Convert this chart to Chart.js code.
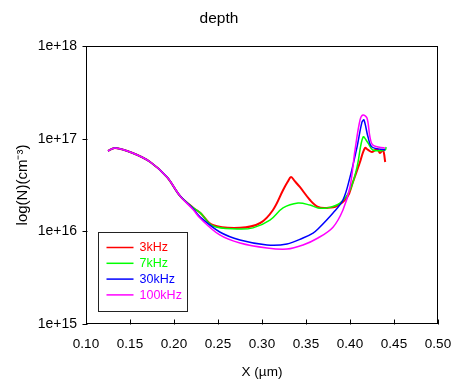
<!DOCTYPE html>
<html><head><meta charset="utf-8">
<script src="https://cdn.jsdelivr.net/npm/chart.js@4"></script>
<style>html,body{margin:0;padding:0;background:#fff}</style>
</head><body>
<canvas id="c" width="455" height="385"></canvas>
<script>
const chartTitle = 'depth';
const xTitle = 'X (µm)';
const yTitle = 'log(N)(cm⁻³)';
const seriesLabels = ['3kHz', '7kHz', '30kHz', '100kHz'];
const seriesColors = ['#ff0000', '#00ff00', '#0000ff', '#ff00ff'];
const yTickValues = [1e15, 1e16, 1e17, 1e18];
const yTickLabels = ['1e+15', '1e+16', '1e+17', '1e+18'];

const x3k = [0.125,0.133,0.153,0.173,0.192,0.207,0.222,0.23,0.244,0.275,0.298,0.3125,0.324,0.329,0.333,0.337,0.343,0.3545,0.3636,0.374,0.385,0.397,0.403,0.411,0.417,0.4205,0.425,0.431,0.434,0.4375,0.44];
const y3k = [7.36e16,7.93e16,7.0e16,5.6e16,3.85e16,2.4e16,1.79e16,1.58e16,1.17e16,1.09e16,1.23e16,1.70e16,2.79e16,3.4e16,3.85e16,3.5e16,3.01e16,2.18e16,1.83e16,1.79e16,1.87e16,2.35e16,3.33e16,5.46e16,7.93e16,7.55e16,7.18e16,7.74e16,7.0e16,7.55e16,5.6e16];

const x7k = [0.125,0.133,0.153,0.173,0.192,0.207,0.222,0.23,0.244,0.2716,0.2898,0.309,0.3239,0.341,0.3545,0.3636,0.374,0.3886,0.4,0.408,0.4148,0.4205,0.426,0.44,0.441];
const y7k = [7.36e16,7.93e16,7.0e16,5.6e16,3.85e16,2.4e16,1.79e16,1.58e16,1.15e16,1.06e16,1.09e16,1.32e16,1.79e16,2.02e16,1.92e16,1.79e16,1.79e16,2.02e16,2.79e16,4.94e16,1.04e17,8.97e16,7.55e16,7.55e16,8.13e16];

const x30k = [0.125,0.133,0.153,0.173,0.192,0.207,0.2216,0.2295,0.252,0.275,0.3057,0.3284,0.3466,0.358,0.3636,0.3807,0.392,0.4,0.408,0.4136,0.4159,0.4205,0.425,0.44];
const y30k = [7.36e16,7.93e16,7.0e16,5.6e16,3.85e16,2.4e16,1.76e16,1.43e16,9.84e15,8.07e15,7.13e15,7.3e15,8.47e15,9.59e15,1.06e16,1.58e16,2.18e16,3.85e16,8.13e16,1.51e17,1.59e17,1.04e17,8.13e16,7.55e16];

const x100k = [0.125,0.133,0.153,0.173,0.192,0.207,0.2216,0.2295,0.252,0.275,0.3057,0.3284,0.3466,0.3636,0.3807,0.392,0.4,0.4057,0.4114,0.4148,0.4193,0.4227,0.4261,0.44];
const y100k = [7.36e16,7.93e16,7.0e16,5.6e16,3.85e16,2.4e16,1.72e16,1.39e16,9.14e15,7.48e15,6.61e15,6.44e15,7.13e15,8.47e15,1.11e16,1.70e16,3.01e16,7.55e16,1.59e17,1.80e17,1.67e17,1.04e17,8.5e16,7.9e16];

const seriesX = [x3k, x7k, x30k, x100k];
const seriesY = [y3k, y7k, y30k, y100k];

const FONT = 'Liberation Sans, Arial, sans-serif';

const datasets = seriesLabels.map((lab, i) => ({
  label: lab,
  data: seriesX[i].map((x, j) => ({x: x, y: seriesY[i][j]})),
  borderColor: seriesColors[i],
  backgroundColor: seriesColors[i],
  borderWidth: i === 0 ? 2 : 1.5,
  pointRadius: 0,
  showLine: true,
  fill: false,
  tension: 0.35,
  order: 3 - i
}));

const framePlugin = {
  id: 'frame',
  afterDraw(chart) {
    const {ctx, chartArea: a, scales: {x, y}} = chart;
    ctx.save();
    ctx.strokeStyle = '#000';
    ctx.lineWidth = 1;
    const L = Math.round(a.left) + 0.5, R = Math.round(a.right) - 0.5;
    const T = Math.round(a.top) + 0.5, B = Math.round(a.bottom) - 0.5;
    ctx.strokeRect(L, T, R - L, B - T);
    ctx.beginPath();
    x.ticks.forEach(t => {
      const px = Math.round(x.getPixelForValue(t.value)) + 0.5;
      ctx.moveTo(px, B + 1); ctx.lineTo(px, B - 4);
    });
    y.ticks.forEach(t => {
      const py = Math.round(y.getPixelForValue(t.value)) + 0.5;
      ctx.moveTo(L - 4, py); ctx.lineTo(L + 1, py);
    });
    ctx.stroke();
    // legend box
    const lx = Math.round(a.left) + 12.5, ly = Math.round(a.bottom) - 91.5;
    ctx.strokeStyle = '#222';
    ctx.strokeRect(lx, ly, 89, 79);
    ctx.font = '12.5px ' + FONT;
    ctx.textBaseline = 'middle';
    ctx.textAlign = 'left';
    chart.data.datasets.forEach((ds, i) => {
      const ry = ly + 15 + i * 15.8;
      ctx.strokeStyle = ds.borderColor;
      ctx.lineWidth = 1.5;
      ctx.beginPath();
      ctx.moveTo(lx + 8, ry); ctx.lineTo(lx + 35, ry);
      ctx.stroke();
      ctx.fillStyle = ds.borderColor;
      ctx.fillText(ds.label, lx + 41, ry + 0.5);
    });
    ctx.restore();
  }
};

new Chart(document.getElementById('c'), {
  type: 'scatter',
  data: {datasets},
  plugins: [framePlugin],
  options: {
    responsive: false,
    animation: false,
    layout: {padding: {left: 0, right: 17, top: 0, bottom: 0}},
    plugins: {
      legend: {display: false},
      tooltip: {enabled: false},
      title: {
        display: true, text: chartTitle, color: '#000',
        font: {family: FONT, size: 15.5, weight: 'normal'},
        padding: {top: 9, bottom: 18.4}
      }
    },
    scales: {
      x: {
        type: 'linear', min: 0.1, max: 0.5,
        grid: {display: false, drawTicks: true, tickLength: 12},
        border: {display: false},
        ticks: {stepSize: 0.05, color: '#000', font: {family: FONT, size: 13.5},
                padding: 0, maxRotation: 0, autoSkip: false,
                callback: v => Number(v).toFixed(2)},
        title: {display: true, text: xTitle, color: '#000',
                font: {family: FONT, size: 13.5}, padding: {top: 0, bottom: 5}},
        afterFit: s => { s.height = 61; }
      },
      y: {
        type: 'logarithmic', min: 1e15, max: 1e18,
        grid: {display: false, drawTicks: false},
        border: {display: false},
        afterBuildTicks: s => { s.ticks = yTickValues.map(v => ({value: v})); },
        ticks: {color: '#000', font: {family: FONT, size: 14}, padding: 9, autoSkip: false,
                callback: (v) => { const k = yTickValues.indexOf(v); return k >= 0 ? yTickLabels[k] : ''; }},
        title: {display: true, text: yTitle, color: '#000',
                font: {family: FONT, size: 15}, padding: {top: 14, bottom: 0}},
        afterFit: s => { s.width = 86; }
      }
    }
  }
});
</script>
</body></html>
